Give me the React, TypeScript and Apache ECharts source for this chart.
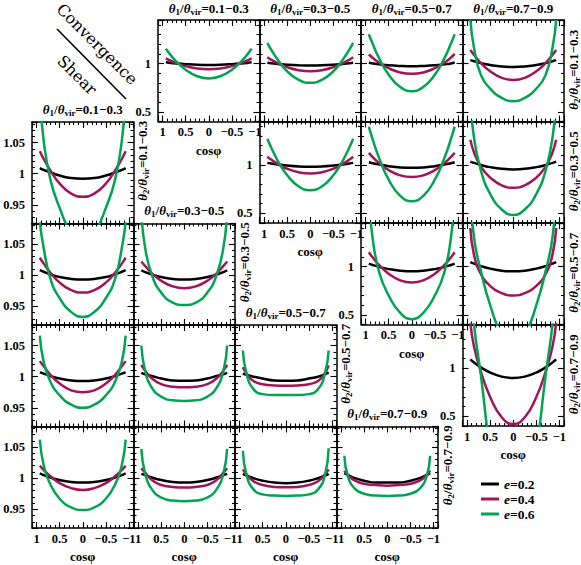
import React, { useEffect, useRef } from 'react';
import * as echarts from 'echarts';

// ---------- data ----------
const COS_PHI = [0.93, 0.85, 0.7, 0.5, 0.25, 0, -0.25, -0.5, -0.7, -0.85, -0.93];
const SERIES_NAMES = ['e=0.2', 'e=0.4', 'e=0.6'];
const SERIES_COLORS = ['#000000', '#A3145C', '#00A550'];
const THETA_BINS = ['0.1−0.3', '0.3−0.5', '0.5−0.7', '0.7−0.9'];
const X_TICK_LABELS = [1, 0.5, 0, -0.5, -1];
const CONV_Y_LABELS = [0.5, 1];
const SHEAR_Y_LABELS = [0.95, 1, 1.05];

// Convergence panels: [row θ2][col θ1], curves e=0.2, 0.4, 0.6
const CONV_0_0 = [
  [1.012, 1.007, 1.0, 0.993, 0.987, 0.985, 0.987, 0.993, 1.0, 1.007, 1.012],
  [1.052, 1.034, 1.004, 0.973, 0.948, 0.94, 0.948, 0.973, 1.004, 1.034, 1.052],
  [1.153, 1.102, 1.02, 0.935, 0.868, 0.846, 0.868, 0.935, 1.02, 1.102, 1.153],
];
const CONV_0_1 = [
  [1.007, 1.002, 0.995, 0.987, 0.981, 0.979, 0.981, 0.987, 0.995, 1.002, 1.007],
  [1.064, 1.04, 1.002, 0.962, 0.931, 0.921, 0.931, 0.962, 1.002, 1.04, 1.064],
  [1.214, 1.146, 1.035, 0.92, 0.83, 0.8, 0.83, 0.92, 1.035, 1.146, 1.214],
];
const CONV_0_2 = [
  [1.008, 1.001, 0.991, 0.981, 0.974, 0.971, 0.974, 0.981, 0.991, 1.001, 1.012],
  [1.093, 1.06, 1.006, 0.951, 0.907, 0.893, 0.907, 0.951, 1.006, 1.062, 1.1],
  [1.303, 1.206, 1.048, 0.884, 0.757, 0.714, 0.757, 0.884, 1.048, 1.206, 1.303],
];
const CONV_0_3 = [
  [1.035, 1.023, 1.004, 0.985, 0.969, 0.964, 0.969, 0.985, 1.004, 1.023, 1.035],
  [1.14, 1.089, 1.005, 0.919, 0.851, 0.829, 0.851, 0.919, 1.005, 1.089, 1.14],
  [1.45, 1.16, 0.88, 0.74, 0.645, 0.61, 0.645, 0.74, 0.88, 1.16, 1.45],
];
const CONV_1_1 = [
  [1.022, 1.015, 1.005, 0.994, 0.985, 0.982, 0.985, 0.994, 1.005, 1.015, 1.022],
  [1.085, 1.056, 1.01, 0.961, 0.924, 0.911, 0.924, 0.961, 1.01, 1.056, 1.085],
  [1.272, 1.184, 1.041, 0.894, 0.778, 0.74, 0.778, 0.894, 1.041, 1.184, 1.272],
];
const CONV_1_2 = [
  [1.029, 1.019, 1.004, 0.988, 0.975, 0.971, 0.975, 0.988, 1.004, 1.019, 1.029],
  [1.125, 1.084, 1.017, 0.947, 0.893, 0.875, 0.893, 0.947, 1.017, 1.084, 1.125],
  [1.397, 1.27, 1.063, 0.848, 0.681, 0.625, 0.681, 0.848, 1.063, 1.27, 1.397],
];
const CONV_1_3 = [
  [1.035, 1.022, 1.0, 0.978, 0.96, 0.954, 0.96, 0.978, 1.0, 1.022, 1.035],
  [1.26, 1.13, 0.98, 0.87, 0.79, 0.765, 0.79, 0.87, 0.98, 1.13, 1.26],
  [1.7, 1.28, 0.94, 0.7, 0.54, 0.483, 0.54, 0.7, 0.94, 1.28, 1.7],
];
const CONV_2_2 = [
  [1.03, 1.016, 0.995, 0.973, 0.956, 0.95, 0.956, 0.973, 0.995, 1.016, 1.03],
  [1.147, 1.095, 1.011, 0.925, 0.857, 0.835, 0.857, 0.925, 1.011, 1.095, 1.147],
  [1.75, 1.3, 0.93, 0.7, 0.52, 0.455, 0.52, 0.7, 0.93, 1.3, 1.75],
];
const CONV_2_3 = [
  [1.045, 1.029, 1.004, 0.978, 0.957, 0.95, 0.957, 0.978, 1.004, 1.029, 1.045],
  [1.4, 1.12, 0.92, 0.8, 0.725, 0.7, 0.725, 0.8, 0.92, 1.12, 1.4],
  [1.8, 1.3, 0.95, 0.6, 0.3, 0.2, 0.3, 0.6, 0.95, 1.3, 1.8],
];
const CONV_3_3 = [
  [1.089, 1.057, 1.006, 0.953, 0.911, 0.897, 0.911, 0.953, 1.006, 1.057, 1.089],
  [1.47, 1.22, 0.96, 0.7, 0.49, 0.42, 0.49, 0.7, 0.96, 1.22, 1.47],
  [2.0, 1.45, 0.92, 0.15, -0.5, -0.8, -0.5, 0.15, 0.92, 1.45, 2.0],
];

// Shear panels: [row θ2][col θ1]
const SHEAR_0_0 = [
  [1.009, 1.006, 1.002, 0.997, 0.993, 0.992, 0.993, 0.997, 1.002, 1.006, 1.009],
  [1.036, 1.024, 1.005, 0.984, 0.968, 0.963, 0.968, 0.984, 1.005, 1.024, 1.036],
  [1.13, 1.055, 0.99, 0.945, 0.905, 0.89, 0.905, 0.945, 0.99, 1.055, 1.13],
];
const SHEAR_1_0 = [
  [1.008, 1.0055, 1.0015, 0.997, 0.994, 0.993, 0.994, 0.997, 1.0015, 1.0055, 1.008],
  [1.028, 1.019, 1.004, 0.988, 0.976, 0.972, 0.976, 0.988, 1.004, 1.019, 1.028],
  [1.085, 1.045, 0.994, 0.963, 0.941, 0.933, 0.941, 0.963, 0.994, 1.045, 1.085],
];
const SHEAR_1_1 = [
  [1.008, 1.005, 1.001, 0.997, 0.994, 0.993, 0.994, 0.997, 1.001, 1.005, 1.008],
  [1.022, 1.015, 1.003, 0.991, 0.982, 0.979, 0.982, 0.991, 1.003, 1.015, 1.022],
  [1.1, 1.045, 1.0, 0.972, 0.956, 0.952, 0.956, 0.972, 1.0, 1.045, 1.1],
];
const SHEAR_2_0 = [
  [1.007, 1.005, 1.001, 0.997, 0.994, 0.993, 0.994, 0.997, 1.001, 1.005, 1.007],
  [1.025, 1.017, 1.003, 0.989, 0.978, 0.975, 0.978, 0.989, 1.003, 1.017, 1.025],
  [1.066, 1.025, 0.992, 0.97, 0.955, 0.95, 0.955, 0.97, 0.992, 1.025, 1.066],
];
const SHEAR_2_1 = [
  [1.006, 1.004, 1.001, 0.997, 0.994, 0.9935, 0.994, 0.997, 1.001, 1.004, 1.006],
  [1.019, 1.01, 0.997, 0.988, 0.984, 0.983, 0.984, 0.988, 0.997, 1.01, 1.019],
  [1.05, 1.01, 0.982, 0.968, 0.962, 0.961, 0.962, 0.968, 0.982, 1.01, 1.05],
];
const SHEAR_2_2 = [
  [1.005, 1.003, 1.0, 0.997, 0.994, 0.9935, 0.994, 0.997, 1.0, 1.004, 1.007],
  [1.015, 1.005, 0.993, 0.988, 0.986, 0.9855, 0.986, 0.988, 0.993, 1.006, 1.018],
  [1.042, 1.005, 0.98, 0.972, 0.9705, 0.9705, 0.9705, 0.972, 0.98, 1.005, 1.042],
];
const SHEAR_3_0 = [
  [1.008, 1.005, 1.001, 0.997, 0.994, 0.993, 0.994, 0.997, 1.001, 1.005, 1.008],
  [1.02, 1.0135, 1.003, 0.992, 0.984, 0.981, 0.984, 0.992, 1.003, 1.0135, 1.02],
  [1.062, 1.022, 0.99, 0.967, 0.953, 0.949, 0.953, 0.967, 0.99, 1.022, 1.062],
];
const SHEAR_3_1 = [
  [1.007, 1.005, 1.001, 0.997, 0.994, 0.993, 0.994, 0.997, 1.001, 1.005, 1.007],
  [1.016, 1.009, 0.997, 0.989, 0.986, 0.985, 0.986, 0.989, 0.997, 1.009, 1.016],
  [1.047, 1.008, 0.982, 0.969, 0.964, 0.963, 0.964, 0.969, 0.982, 1.008, 1.047],
];
const SHEAR_3_2 = [
  [1.007, 1.004, 1.0, 0.996, 0.993, 0.992, 0.993, 0.996, 1.0, 1.004, 1.007],
  [1.014, 1.006, 0.995, 0.989, 0.986, 0.9855, 0.986, 0.989, 0.995, 1.006, 1.014],
  [1.044, 1.005, 0.982, 0.974, 0.972, 0.9715, 0.972, 0.974, 0.982, 1.005, 1.048],
];
const SHEAR_3_3 = [
  [1.008, 1.005, 1.0, 0.996, 0.993, 0.993, 0.993, 0.996, 1.0, 1.005, 1.008],
  [1.012, 1.005, 0.996, 0.991, 0.989, 0.988, 0.989, 0.991, 0.996, 1.005, 1.012],
  [1.036, 1.002, 0.983, 0.975, 0.972, 0.9715, 0.972, 0.975, 0.983, 1.002, 1.036],
];

// ---------- layout ----------
const SERIF = '"Liberation Serif", "DejaVu Serif", serif';
const CELL = 101.5;
const CONV_LEFT = 158;
const CONV_TOP = 20;
const SHEAR_LEFT = 32;
const SHEAR_TOP = 122;

type Kind = 'conv' | 'shear';
interface Panel { kind: Kind; r: number; c: number; curves: number[][] }

const PANELS: Panel[] = [
  { kind: 'conv', r: 0, c: 0, curves: CONV_0_0 },
  { kind: 'conv', r: 0, c: 1, curves: CONV_0_1 },
  { kind: 'conv', r: 0, c: 2, curves: CONV_0_2 },
  { kind: 'conv', r: 0, c: 3, curves: CONV_0_3 },
  { kind: 'conv', r: 1, c: 1, curves: CONV_1_1 },
  { kind: 'conv', r: 1, c: 2, curves: CONV_1_2 },
  { kind: 'conv', r: 1, c: 3, curves: CONV_1_3 },
  { kind: 'conv', r: 2, c: 2, curves: CONV_2_2 },
  { kind: 'conv', r: 2, c: 3, curves: CONV_2_3 },
  { kind: 'conv', r: 3, c: 3, curves: CONV_3_3 },
  { kind: 'shear', r: 0, c: 0, curves: SHEAR_0_0 },
  { kind: 'shear', r: 1, c: 0, curves: SHEAR_1_0 },
  { kind: 'shear', r: 1, c: 1, curves: SHEAR_1_1 },
  { kind: 'shear', r: 2, c: 0, curves: SHEAR_2_0 },
  { kind: 'shear', r: 2, c: 1, curves: SHEAR_2_1 },
  { kind: 'shear', r: 2, c: 2, curves: SHEAR_2_2 },
  { kind: 'shear', r: 3, c: 0, curves: SHEAR_3_0 },
  { kind: 'shear', r: 3, c: 1, curves: SHEAR_3_1 },
  { kind: 'shear', r: 3, c: 2, curves: SHEAR_3_2 },
  { kind: 'shear', r: 3, c: 3, curves: SHEAR_3_3 },
];

function rectOf(p: Panel) {
  if (p.kind === 'conv') return { left: CONV_LEFT + p.c * CELL, top: CONV_TOP + p.r * CELL };
  return { left: SHEAR_LEFT + p.c * CELL, top: SHEAR_TOP + p.r * CELL };
}

const fmtNum = (v: number) => String(Math.round(v * 1000) / 1000).replace('-', '−');
const inList = (list: number[], v: number) => list.some((t) => Math.abs(t - v) < 1e-6);

const FRAME = { color: '#000', width: 1.5 };
const TICK = { color: '#000', width: 1.1 };
const LABEL_STYLE = { fontFamily: SERIF, fontWeight: 'bold', fontSize: 12.5, color: '#000' };

function buildAxes(gi: number, p: Panel) {
  const conv = p.kind === 'conv';
  const showX = conv ? p.c === p.r : p.r === 3;
  const showY = conv ? p.c === p.r : p.c === 0;
  const yMin = conv ? 0.4 : 0.92;
  const yMax = conv ? 1.45 : 1.083;
  const yMajor = conv ? 0.5 : 0.05;
  const yMinor = conv ? 0.1 : 0.01;
  const yLabels = conv ? CONV_Y_LABELS : SHEAR_Y_LABELS;

  const xBase = { type: 'value', gridIndex: gi, min: -1.1, max: 1.1, inverse: true, splitLine: { show: false } };
  const yBase = { type: 'value', gridIndex: gi, min: yMin, max: yMax, splitLine: { show: false } };
  const ticks = (len: number) => ({ show: true, inside: true, length: len, lineStyle: TICK });

  const xs: any[] = [];
  const ys: any[] = [];
  (['bottom', 'top'] as const).forEach((pos) => {
    const labelled = pos === 'bottom' && showX;
    xs.push({
      ...xBase, position: pos, splitNumber: 4, minInterval: 0.5, maxInterval: 0.5,
      axisLine: { show: true, onZero: false, lineStyle: FRAME },
      axisTick: ticks(6),
      axisLabel: labelled
        ? {
            show: true, margin: 4, ...LABEL_STYLE, customValues: X_TICK_LABELS,
            showMinLabel: true, showMaxLabel: true, hideOverlap: false,
            formatter: (v: number) => (inList(X_TICK_LABELS, v) ? fmtNum(v) : ''),
          }
        : { show: false },
      name: labelled ? 'cosφ' : '',
      nameLocation: 'middle', nameGap: 22,
      nameTextStyle: { ...LABEL_STYLE, fontSize: 13 },
    });
    xs.push({
      ...xBase, position: pos, interval: 0.1,
      axisLine: { show: false, onZero: false }, axisTick: ticks(3), axisLabel: { show: false },
    });
  });
  (['left', 'right'] as const).forEach((pos) => {
    const labelled = pos === 'left' && showY;
    ys.push({
      ...yBase, position: pos, splitNumber: conv ? 2 : 3, minInterval: yMajor, maxInterval: yMajor,
      axisLine: { show: true, onZero: false, lineStyle: FRAME },
      axisTick: ticks(6),
      axisLabel: labelled
        ? {
            show: true, margin: 7, ...LABEL_STYLE, customValues: yLabels,
            showMinLabel: true, showMaxLabel: true, hideOverlap: false,
            formatter: (v: number) => (inList(yLabels, v) ? fmtNum(v) : ''),
          }
        : { show: false },
    });
    ys.push({
      ...yBase, position: pos, interval: yMinor,
      axisLine: { show: false, onZero: false }, axisTick: ticks(3), axisLabel: { show: false },
    });
  });
  return { xs, ys };
}

const THETA_RICH = {
  g: { fontFamily: SERIF, fontWeight: 'bold', fontStyle: 'italic', fontSize: 13, lineHeight: 16, fill: '#000' },
  n: { fontFamily: SERIF, fontWeight: 'bold', fontSize: 13, lineHeight: 16, fill: '#000' },
  s: { fontFamily: SERIF, fontWeight: 'bold', fontSize: 9, lineHeight: 10, verticalAlign: 'bottom', fill: '#000' },
};
const thetaText = (k: number, range: string) => `{g|θ}{s|${k}}{n|/}{g|θ}{s|vir}{n|=${range}}`;

function buildGraphics() {
  const g: any[] = [];
  for (let i = 0; i < 4; i++) {
    g.push({ type: 'text', x: CONV_LEFT + i * CELL + CELL / 2, y: CONV_TOP - 12,
      style: { text: thetaText(1, THETA_BINS[i]), rich: THETA_RICH, align: 'center', verticalAlign: 'middle' } });
    g.push({ type: 'text', x: CONV_LEFT + 4 * CELL + 9, y: CONV_TOP + i * CELL + CELL / 2 - 1, rotation: Math.PI / 2,
      style: { text: thetaText(2, THETA_BINS[i]), rich: THETA_RICH, align: 'center', verticalAlign: 'middle' } });
    g.push({ type: 'text', x: SHEAR_LEFT + i * CELL + CELL / 2, y: SHEAR_TOP + i * CELL - 13,
      style: { text: thetaText(1, THETA_BINS[i]), rich: THETA_RICH, align: 'center', verticalAlign: 'middle' } });
    g.push({ type: 'text', x: SHEAR_LEFT + (i + 1) * CELL + 9, y: SHEAR_TOP + i * CELL + CELL / 2 - 12, rotation: Math.PI / 2,
      style: { text: thetaText(2, THETA_BINS[i]), rich: THETA_RICH, align: 'center', verticalAlign: 'middle' } });
  }
  g.push({ type: 'line', shape: { x1: 57, y1: 29, x2: 126, y2: 99 }, style: { stroke: '#000', lineWidth: 1.6 } });
  g.push({ type: 'text', x: 97, y: 44, rotation: -Math.PI / 4,
    style: { text: 'Convergence', font: '16px "DejaVu Serif", serif', fill: '#000', align: 'center', verticalAlign: 'middle' } });
  g.push({ type: 'text', x: 77, y: 75, rotation: -Math.PI / 4,
    style: { text: 'Shear', font: '16px "DejaVu Serif", serif', fill: '#000', align: 'center', verticalAlign: 'middle' } });
  return g;
}

function buildOption() {
  const grid: any[] = [];
  const xAxis: any[] = [];
  const yAxis: any[] = [];
  const series: any[] = [];
  PANELS.forEach((p, gi) => {
    const r = rectOf(p);
    grid.push({ left: r.left, top: r.top, width: CELL, height: CELL, outerBoundsMode: 'none', containLabel: false });
    const { xs, ys } = buildAxes(gi, p);
    const xi = xAxis.length;
    const yi = yAxis.length;
    xAxis.push(...xs);
    yAxis.push(...ys);
    p.curves.forEach((vals, k) => {
      series.push({
        type: 'line', name: SERIES_NAMES[k], xAxisIndex: xi, yAxisIndex: yi,
        data: COS_PHI.map((x, i) => [x, vals[i]]),
        showSymbol: false, symbol: 'none', smooth: 0.5, clip: true, silent: true,
        lineStyle: { color: SERIES_COLORS[k], width: 2.5 }, itemStyle: { color: SERIES_COLORS[k] },
        z: 3,
      });
    });
  });
  return {
    animation: false,
    backgroundColor: '#ffffff',
    grid, xAxis, yAxis, series,
    legend: {
      data: SERIES_NAMES, orient: 'vertical', left: 476, top: 472, itemWidth: 18, itemHeight: 3,
      itemGap: 1, icon: 'rect', selectedMode: false,
      formatter: (n: string) => `{i|e}{n|${n.slice(1)}}`,
      textStyle: {
        rich: {
          i: { fontFamily: SERIF, fontWeight: 'bold', fontStyle: 'italic', fontSize: 13.5, lineHeight: 14.5, color: '#000' },
          n: { fontFamily: SERIF, fontWeight: 'bold', fontSize: 13.5, lineHeight: 14.5, color: '#000' },
        },
      },
    },
    graphic: buildGraphics(),
  };
}

export default function App() {
  const ref = useRef<HTMLDivElement>(null);
  useEffect(() => {
    if (!ref.current) return;
    const chart = echarts.init(ref.current, undefined, { renderer: 'svg' });
    chart.setOption(buildOption() as any);
    return () => chart.dispose();
  }, []);
  return <div ref={ref} style={{ position: 'fixed', left: 0, top: 0, width: 581, height: 565, background: '#fff' }} />;
}
